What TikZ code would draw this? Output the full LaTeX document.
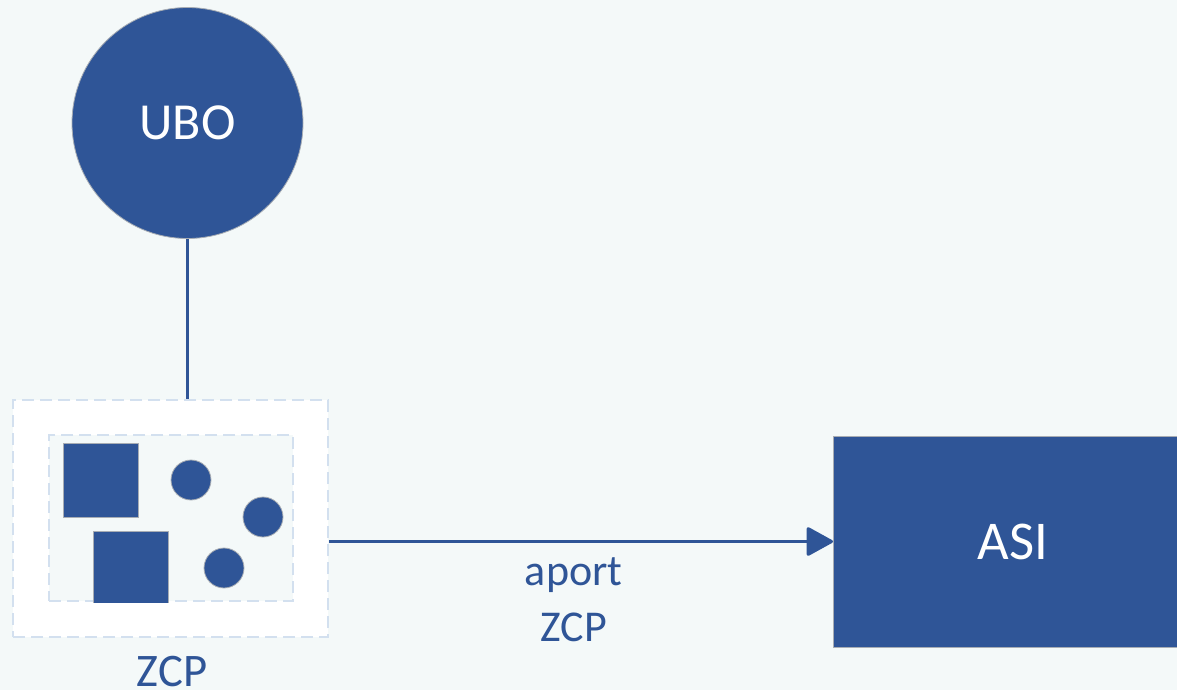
\documentclass[tikz,border=0pt]{standalone}
\usepackage{fontspec}
\setmainfont{Carlito}
\usetikzlibrary{arrows.meta}
\definecolor{navy}{HTML}{2F5597}
\definecolor{paper}{HTML}{F4F9F9}
\definecolor{dashc}{HTML}{D3E0EF}
\definecolor{rim}{HTML}{A8ADB4}
\tikzset{
  solidshape/.style={fill=navy, draw=rim, line width=0.6pt},
  dashframe/.style={draw=dashc, line width=2.2pt, dash pattern=on 9pt off 4.5pt},
  link/.style={draw=navy, line width=2.3pt},
  wordlabel/.style={text=navy, align=center},
}
\begin{document}
\begin{tikzpicture}[x=0.75pt, y=-0.75pt]
  % canvas
  \fill[paper] (0,0) rectangle (1177,690);
  \useasboundingbox (0,0) rectangle (1177,690);

  % owner circle
  \node[solidshape, circle, minimum size=231*0.75pt, inner sep=0pt,
        text=white, font=\fontsize{39}{44}\selectfont] (ubo) at (187.5,123) {UBO};

  % company frame
  \node[dashframe, fill=white, minimum width=315*0.75pt, minimum height=237*0.75pt,
        inner sep=0pt] (zcp) at (170.5,518.5) {};
  \node[dashframe, line width=1.6pt, fill=paper, minimum width=244*0.75pt,
        minimum height=166*0.75pt, inner sep=0pt] (inner) at (171,518) {};

  % holdings inside the frame
  \node[solidshape, minimum width=75*0.75pt, minimum height=74*0.75pt, inner sep=0pt] (sq1) at (100.5,480) {};
  \begin{scope}
    \clip (inner.south west) rectangle (inner.north east);
    \node[solidshape, minimum width=75*0.75pt, minimum height=74*0.75pt, inner sep=0pt] (sq2) at (130.5,568) {};
  \end{scope}
  \node[solidshape, circle, minimum size=40*0.75pt, inner sep=0pt] (c1) at (191,480) {};
  \node[solidshape, circle, minimum size=40*0.75pt, inner sep=0pt] (c2) at (263,517) {};
  \node[solidshape, circle, minimum size=40*0.75pt, inner sep=0pt] (c3) at (224,568) {};

  \node[wordlabel, font=\fontsize{35}{40}\selectfont, anchor=north] (zcplabel) at (172,651) {ZCP};

  % receiving entity
  \node[solidshape, minimum width=400*0.75pt, minimum height=211*0.75pt, inner sep=0pt,
        anchor=west] (asibox) at (833,541.5) {};
  \node[text=white, font=\fontsize{41}{46}\selectfont] (asi) at (1013,542) {ASI};

  % connectors
  \draw[link] (ubo.south) -- (ubo.south |- zcp.north);
  \coordinate (zcpout) at (zcp.east |- asibox.west);
  \draw[link, -{Triangle[length=28*0.75pt, width=30*0.75pt, round]}] (zcpout) -- (asibox.west)
    node[pos=0.485, below=8pt, wordlabel, font=\fontsize{33}{42}\selectfont] (contrib) {aport\\ZCP};
\end{tikzpicture}
\end{document}
